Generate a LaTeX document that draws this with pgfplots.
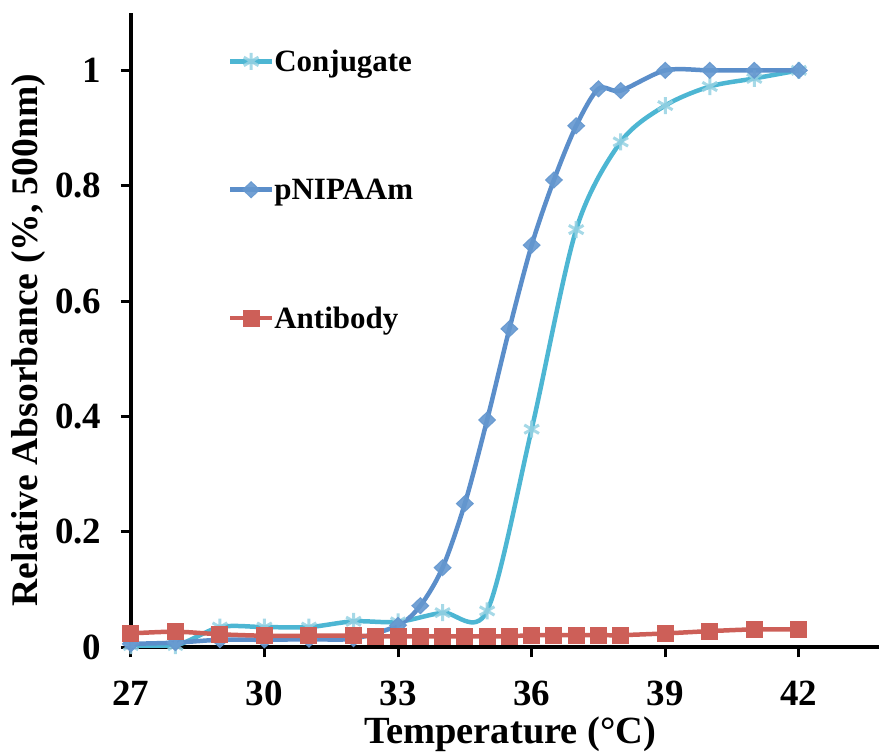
\documentclass[border=0pt]{standalone}
\usepackage{pgfplots}
\pgfplotsset{compat=1.18}
\usepackage{fontspec}
\setmainfont{Liberation Serif}
\definecolor{conjc}{HTML}{4DB6D3}
\definecolor{conjm}{HTML}{96D2E3}
\definecolor{pnipc}{HTML}{5B8ECA}
\definecolor{pnipm}{HTML}{6497CF}
\definecolor{antic}{HTML}{CD5F58}
\begin{document}
\begin{tikzpicture}
\begin{axis}[
  scale only axis, width=749pt, height=635.3pt,
  xmin=27, xmax=43.8, ymin=0, ymax=1.1,
  axis lines=left, axis line style={line width=4pt,-,black},
  xtick={27,30,33,36,39,42},
  ytick={0,0.2,0.4,0.6,0.8,1}, yticklabels={0,0.2,0.4,0.6,0.8,1},
  tick align=outside, major tick length=10pt,
  tick style={line width=3pt, black},
  /pgf/number format/assume math mode=true,
  tick label style={font=\fontsize{37}{40}\selectfont\bfseries},
  xticklabel style={anchor=base, yshift=-48pt},
  yticklabel style={anchor=east, xshift=-16pt},
  xlabel={Temperature (°C)},
  ylabel={Relative Absorbance (\%, 500nm)},
  xlabel style={at={(axis description cs:0.507,-0.151)}, anchor=base, font=\fontsize{38.5}{41}\selectfont\bfseries},
  ylabel style={at={(axis description cs:-0.1375,0.484)}, anchor=center, font=\fontsize{37.6}{40}\selectfont\bfseries},
  legend image code/.code={\draw[mark repeat=2,mark phase=2] plot coordinates {(0pt,0pt)(21pt,0pt)(42pt,0pt)};},
  legend style={draw=none, fill=none, at={(rel axis cs:0.1295,0.721)}, anchor=west,
    inner sep=0pt, row sep=106pt, font=\fontsize{31}{33}\selectfont\bfseries,
    nodes={inner sep=0pt}},
  legend cell align=left,
]
\addplot[conjc, line width=4.5pt, smooth, tension=0.5, mark=asterisk, mark size=8.5pt,
  mark options={conjm, line width=3pt, opacity=0.85}] coordinates {
(27,0.003)(28,0.003)(29,0.035)(30,0.035)(31,0.035)(32,0.045)(33,0.044)(34,0.06)(35,0.063)(36,0.378)(37,0.724)(38,0.876)(39,0.939)(40,0.972)(41,0.986)(42,1.0)};
\addlegendentry{Conjugate}
\addplot[pnipc, line width=4.5pt, smooth, tension=0.5, mark=diamond*, mark size=8pt,
  mark options={pnipm, fill=pnipm, line width=1pt, xscale=1.4, opacity=0.9}] coordinates {
(27,0.006)(28,0.008)(29,0.013)(30,0.013)(31,0.014)(32,0.015)(33,0.038)(33.5,0.072)(34,0.138)(34.5,0.249)(35,0.394)(35.5,0.552)(36,0.697)(36.5,0.81)(37,0.904)(37.5,0.968)(38,0.965)(39,1.0)(40,1.0)(41,1.0)(42,1.0)};
\addlegendentry{pNIPAAm}
\addplot[antic, line width=4.5pt, smooth, tension=0.5, mark=square*, mark size=8pt,
  mark options={antic, fill=antic, line width=1pt}] coordinates {
(27,0.024)(28,0.027)(29,0.0225)(30,0.02)(31,0.02)(32,0.02)(32.5,0.019)(33,0.019)(33.5,0.019)(34,0.019)(34.5,0.019)(35,0.019)(35.5,0.019)(36,0.021)(36.5,0.021)(37,0.021)(37.5,0.021)(38,0.021)(39,0.024)(40,0.028)(41,0.031)(42,0.031)};
\addlegendentry{Antibody}
\end{axis}
\path ([shift={(-131pt,-104pt)}]current axis.south west) rectangle ([shift={(1pt,12.7pt)}]current axis.north east);
\end{tikzpicture}
\end{document}
